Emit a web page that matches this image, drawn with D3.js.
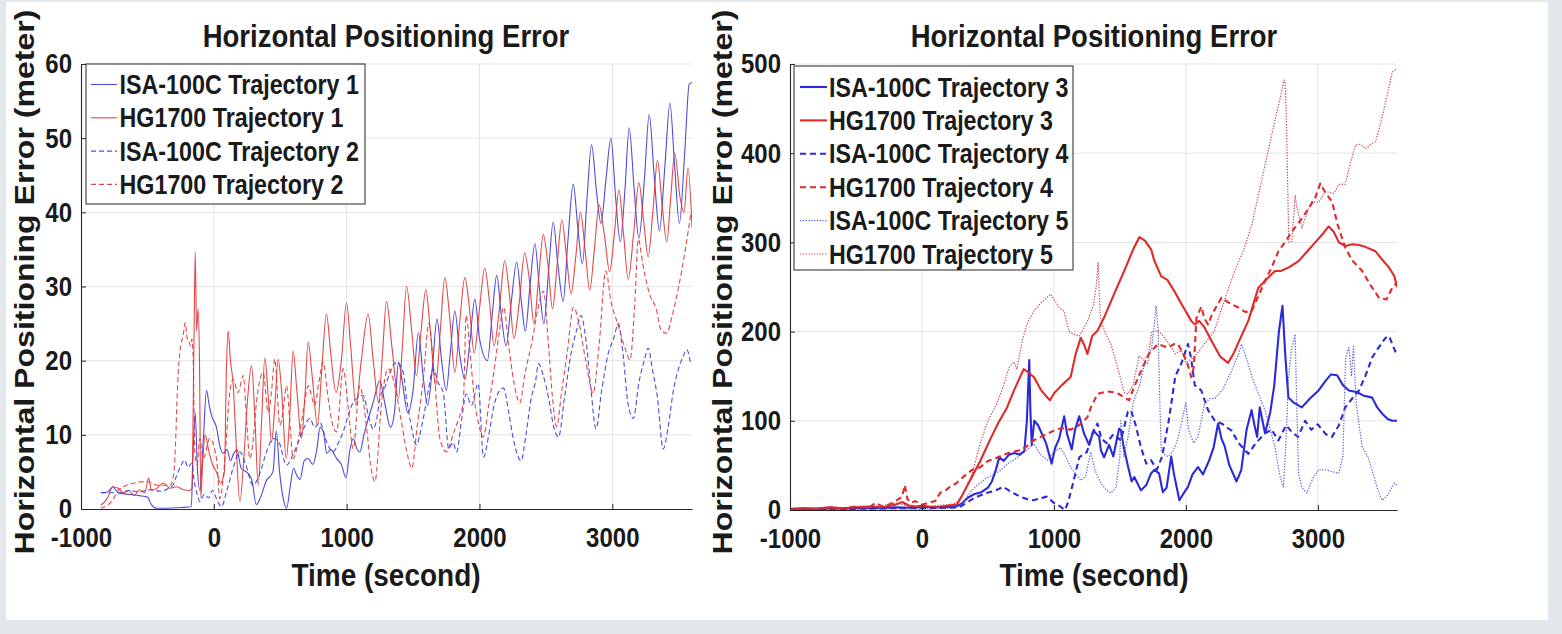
<!DOCTYPE html>
<html>
<head>
<meta charset="utf-8">
<script src="https://cdn.jsdelivr.net/npm/d3@7"></script>
<style>
  html, body { margin: 0; padding: 0; background: #e1e7ea; }
  svg { display: block; }
  text { font-family: "Liberation Sans", Arial, Helvetica, sans-serif; font-weight: bold; fill: #1a1a1a; }
</style>
</head>
<body>
<svg id="chart" width="1562" height="634"></svg>
<script>
// ---------------- DATA ----------------
const xTickValues = [-1000, 0, 1000, 2000, 3000];
const leftYTicks = [0, 10, 20, 30, 40, 50, 60];
const rightYTicks = [0, 100, 200, 300, 400, 500];
const titleText = "Horizontal Positioning Error";
const xLabelText = "Time (second)";
const yLabelText = "Horizontal Positioning Error (meter)";

// Left panel: [time (s), error (m)]
const isaTraj1 = [[-850,2.2],[-800,2.3],[-760,3.0],[-720,2.2],[-650,2.0],[-560,1.8],[-500,1.6],[-470,0.6],[-430,0.1],[-350,0.1],[-250,0.2],[-170,0.3],[-155,8],[-140,13],[-125,6],[-105,2.5],[-80,9],[-55,16],[-35,14],[-15,12.5],[20,11],[45,8.5],[70,7.5],[100,8],[125,6.5],[150,7.5],[175,8],[205,5.5],[245,5],[285,4],[320,0.6],[350,1.5],[395,3.8],[445,5],[470,10.5],[495,5],[525,1.2],[548,0.1],[575,3],[600,5.5],[625,4.5],[650,4],[680,6.5],[710,6.8],[745,6],[775,8],[800,11],[825,10.4],[850,7.5],[880,8],[925,6.8],[960,6],[995,4.2],[1025,8],[1050,9.5],[1080,8],[1100,7.7],[1130,10],[1160,12],[1200,14.4],[1250,17.3],[1290,14],[1330,11],[1360,13],[1390,19.8],[1420,17],[1460,13],[1500,16],[1540,23.8],[1575,18],[1610,14],[1645,19],[1680,25.6],[1715,20],[1750,16],[1780,21],[1815,26.7],[1850,21],[1890,17.5],[1925,22],[1965,28.3],[2000,23],[2060,20],[2095,26],[2130,31.5],[2165,26],[2200,22],[2240,28],[2280,33.3],[2315,28],[2345,24],[2380,30],[2417,35.8],[2450,30],[2485,25],[2520,32],[2555,38.7],[2590,33],[2630,28],[2665,36],[2706,43.8],[2740,38],[2775,33],[2810,42],[2844,49.1],[2880,43],[2915,38.5],[2950,44],[2990,50],[3025,42],[3060,36],[3095,43],[3127,51.4],[3165,43],[3200,36.5],[3240,44],[3278,53.2],[3315,45],[3355,37.5],[3395,46],[3434,54.7],[3470,46],[3505,38.5],[3545,48],[3579,57.3],[3600,57.5]];

const hgTraj1 = [[-850,0.5],[-800,1.5],[-760,3],[-720,2.8],[-680,2.2],[-640,2.5],[-600,1.8],[-560,2.6],[-520,2.2],[-490,4.2],[-470,2.5],[-430,2.8],[-380,3.5],[-330,2.8],[-280,3],[-230,2.6],[-180,2.5],[-165,2.8],[-150,22],[-140,34.6],[-130,24],[-118,27],[-108,20],[-98,1.5],[-85,6],[-65,10],[-40,8],[-10,6],[20,5],[50,3.5],[80,5],[95,19],[108,24],[125,20],[145,17],[165,10],[196,1],[230,8],[255,15],[284,19.3],[310,12],[334,3.2],[360,12],[384,20.4],[410,15],[434,9],[460,14],[484,20.2],[510,16],[545,6.8],[570,12],[597,21.3],[625,16],[660,9.5],[685,15],[710,22.5],[740,18],[780,11.3],[810,18],[848,26.3],[880,21],[920,15.7],[960,20],[999,27.8],[1030,22],[1070,14],[1110,20],[1162,26.3],[1200,20],[1240,14.4],[1270,21],[1300,28],[1340,22],[1390,14.9],[1420,22],[1451,30],[1490,24],[1525,18],[1560,24],[1596,29.6],[1630,24],[1670,16.6],[1705,24],[1739,31.2],[1775,26],[1815,18.4],[1850,25],[1890,31.2],[1925,27],[1960,21],[2000,27],[2040,32.5],[2075,28],[2110,22],[2150,27],[2190,33.5],[2225,29],[2260,23],[2300,28],[2340,34.5],[2375,31],[2410,25],[2445,31],[2480,37],[2515,33],[2550,27],[2585,33],[2620,39],[2655,34],[2690,29],[2725,34],[2760,40],[2795,35],[2830,29.5],[2865,35],[2900,41],[2940,37],[2980,32],[3015,37],[3050,43],[3085,37],[3120,31],[3160,37],[3200,44],[3235,39],[3270,34],[3305,40],[3340,47],[3375,41],[3410,36],[3440,42],[3470,48],[3510,42],[3540,40],[3570,46],[3600,38]];

const isaTraj2 = [[-850,2.2],[-780,2.2],[-700,2.2],[-640,2.5],[-560,2.3],[-480,2.6],[-400,2.4],[-340,2.8],[-307,3.2],[-280,4.5],[-256,5.5],[-219,6.6],[-195,5.6],[-181,5.9],[-165,6.2],[-150,4],[-125,2],[-106,1],[-70,2],[-40,1.5],[-10,2.5],[20,1.4],[58,0.3],[95,2.3],[145,5.5],[196,7.7],[240,6],[296,3.2],[340,4.5],[397,7.7],[447,9.5],[490,9],[547,5.9],[600,7.5],[647,9.5],[680,11],[723,12.2],[760,11],[798,11.7],[850,9],[899,7.7],[940,9],[974,10.4],[1010,12.5],[1049,14.4],[1085,15],[1125,15.3],[1165,12.5],[1200,10.8],[1225,12],[1250,14.9],[1290,16.5],[1326,18.4],[1376,19.8],[1426,18.4],[1450,15],[1476,12.2],[1527,8.6],[1550,10],[1577,12.2],[1615,16],[1652,18.9],[1690,17],[1727,15.7],[1769,8.1],[1800,9],[1828,7.7],[1865,12],[1900,15.5],[1940,14],[1990,16.9],[2030,7.0],[2070,10],[2110,14],[2153,16],[2182,16.3],[2220,13],[2260,9],[2313,6.5],[2350,10],[2390,15],[2420,17],[2445,19.6],[2480,18],[2520,15],[2560,11],[2595,9.7],[2640,15],[2690,21],[2730,24],[2764,26.1],[2800,23],[2840,16],[2877,10.8],[2920,16],[2970,21],[3010,23],[3046,25],[3080,21],[3120,14],[3158,12.2],[3200,17],[3240,20],[3271,21.7],[3300,19],[3340,15],[3383,8.1],[3420,11],[3460,16],[3500,19],[3534,20.6],[3560,21.5],[3590,19.6]];

const hgTraj2 = [[-850,0.1],[-800,0.5],[-755,1.4],[-720,2.5],[-680,3],[-600,3.5],[-504,3.7],[-450,3.3],[-404,3.2],[-329,3.2],[-300,5],[-291,7.7],[-273,16.6],[-253,21.6],[-230,23.5],[-216,25.1],[-200,23],[-191,22.7],[-175,22],[-166,22.9],[-155,20],[-143,7.7],[-125,6],[-106,9.5],[-80,6.8],[-30,9.5],[20,6.8],[45,1.4],[80,6],[120,15.7],[145,17.5],[183,15.7],[221,18],[250,11],[271,6.8],[300,10],[321,14.4],[372,18.4],[409,13],[435,16],[459,20.2],[497,11.3],[520,13],[547,16.6],[575,11],[597,6.8],[647,10.4],[680,14],[710,16.6],[760,14],[790,17],[823,19.8],[860,15],[900,11],[924,10.4],[974,18.9],[1010,14],[1049,8.1],[1099,16.6],[1150,11],[1180,6],[1213,3.7],[1263,14.4],[1313,18.9],[1363,16.6],[1410,12],[1453,7.7],[1491,5.5],[1530,11],[1577,17.5],[1619,25],[1660,18],[1702,9.5],[1752,7.7],[1800,10],[1840,12],[1878,14.4],[1900,26.1],[1925,22],[1960,15],[2000,11],[2028,9.7],[2070,14],[2120,20],[2150,24],[2182,27.2],[2220,22],[2260,17],[2304,14.3],[2340,18],[2400,23],[2440,27],[2482,29.4],[2520,22],[2550,15],[2580,11.1],[2620,16],[2660,21],[2708,27.2],[2750,25],[2800,20],[2856,15.6],[2900,22],[2952,32.1],[2990,28],[3040,25],[3090,22],[3133,20.1],[3170,28],[3196,36.4],[3230,33],[3280,29],[3330,27],[3370,24],[3409,23.7],[3450,26],[3500,30],[3550,35],[3590,39.7]];

// Right panel: [time (s), error (m)]
const isaTraj3 = [[-1000,1],[-900,1.5],[-800,1],[-700,2],[-600,1.5],[-500,2],[-400,2.5],[-300,2],[-200,3],[-100,2.5],[0,3],[100,3],[200,3.5],[260,4],[300,7],[350,14],[400,18],[450,20],[500,25],[530,32],[560,45],[586,59],[620,55],[660,62],[700,64],[740,62],[776,66],[795,100],[813,168],[822,110],[832,73],[851,100],[880,95],[910,85],[940,75],[983,52],[1010,70],[1040,80],[1078,105],[1100,85],[1135,68],[1160,90],[1192,105],[1230,85],[1267,73],[1300,89],[1343,82],[1356,67],[1380,59],[1418,73],[1450,60],[1494,91],[1508,89],[1530,70],[1560,50],[1589,32],[1609,37],[1660,22],[1700,28],[1736,41],[1760,45],[1797,41],[1825,20],[1854,25],[1889,60],[1910,40],[1951,11],[1980,18],[2016,26],[2050,40],[2092,48],[2130,40],[2175,55],[2210,70],[2244,97],[2270,80],[2295,71],[2330,50],[2384,32],[2420,45],[2460,90],[2498,112],[2520,95],[2540,82],[2560,115],[2600,86],[2640,110],[2670,140],[2705,200],[2732,229],[2755,170],[2777,126],[2820,120],[2879,115],[2940,125],[3006,134],[3060,145],[3100,152],[3146,151],[3190,140],[3235,134],[3300,132],[3350,128],[3412,126],[3450,115],[3488,108],[3530,102],[3564,100],[3600,100]];

const hgTraj3 = [[-1000,1],[-900,2],[-800,1.5],[-700,3],[-600,2],[-500,3],[-400,4],[-300,3],[-200,6],[-150,9],[-100,5],[-50,4],[0,5],[50,4],[100,3],[150,4],[200,5],[264,6],[300,15],[360,32],[442,55],[520,80],[580,98],[645,115],[700,135],[771,158],[800,155],[848,149],[900,135],[950,126],[970,123],[1001,131],[1060,140],[1127,149],[1165,175],[1203,193],[1230,185],[1254,175],[1290,195],[1330,201],[1381,216],[1450,240],[1533,268],[1600,292],[1648,306],[1690,302],[1737,292],[1760,280],[1813,262],[1860,258],[1914,245],[1970,230],[2041,212],[2070,208],[2100,212],[2140,205],[2200,188],[2260,172],[2320,165],[2360,175],[2420,195],[2473,212],[2520,235],[2549,249],[2600,257],[2675,268],[2720,268],[2780,272],[2854,279],[2920,290],[2980,300],[3040,310],[3082,318],[3120,312],[3160,300],[3208,296],[3260,298],[3311,297],[3360,295],[3437,290],[3480,282],[3539,272],[3580,262],[3600,250]];

const isaTraj4 = [[-1000,0.5],[-800,1],[-600,1],[-400,1.5],[-200,2],[0,2],[200,2.5],[280,3],[340,8],[400,14],[490,19],[560,22],[617,26],[680,20],[743,15],[800,12],[844,11],[900,13],[945,15],[1000,8],[1046,4],[1085,0],[1110,10],[1150,33],[1192,59],[1250,65],[1290,85],[1330,97],[1360,80],[1400,75],[1450,85],[1508,78],[1560,110],[1584,112],[1620,95],[1660,70],[1700,52],[1736,56],[1780,45],[1820,60],[1870,100],[1920,150],[1965,164],[2016,186],[2040,170],[2067,140],[2117,134],[2168,112],[2220,100],[2270,97],[2346,89],[2400,75],[2473,63],[2530,75],[2600,86],[2650,90],[2701,78],[2760,95],[2800,88],[2850,82],[2904,100],[2950,90],[3000,96],[3060,85],[3107,82],[3160,95],[3208,115],[3260,125],[3311,134],[3360,150],[3412,171],[3460,182],[3513,193],[3540,195],[3564,186],[3600,173]];

const hgTraj4 = [[-1000,1],[-900,2],[-800,1],[-700,3],[-600,2],[-500,4],[-400,3],[-350,8],[-300,4],[-250,6],[-200,10],[-150,15],[-130,28],[-110,12],[-80,8],[-50,10],[0,6],[50,8],[100,10],[137,19],[180,22],[213,26],[260,30],[320,38],[380,45],[442,48],[500,55],[560,58],[620,62],[680,65],[746,67],[800,72],[848,78],[900,82],[1001,89],[1060,92],[1127,90],[1190,95],[1254,104],[1280,115],[1330,130],[1400,133],[1450,132],[1494,130],[1533,126],[1570,123],[1600,135],[1660,156],[1720,175],[1787,186],[1864,182],[1910,186],[1940,186],[1980,175],[2010,165],[2041,149],[2060,160],[2080,215],[2117,228],[2140,215],[2168,208],[2200,220],[2270,238],[2330,232],[2397,227],[2450,222],[2498,223],[2550,240],[2600,257],[2650,272],[2701,290],[2750,300],[2803,312],[2870,325],[2930,338],[2980,350],[3018,366],[3060,355],[3107,346],[3150,320],[3208,294],[3260,280],[3336,268],[3400,252],[3463,238],[3520,236],[3564,249],[3600,255]];

const isaTraj5 = [[-1000,0.5],[-800,1],[-600,0.5],[-400,1],[-200,1.5],[0,1],[200,2],[260,3],[300,6],[366,20],[420,28],[480,35],[550,40],[600,45],[650,52],[696,56],[750,62],[800,68],[848,74],[900,62],[950,56],[1000,65],[1050,70],[1090,60],[1127,48],[1170,40],[1203,33],[1240,38],[1280,65],[1310,45],[1356,30],[1400,22],[1432,19],[1470,25],[1500,60],[1508,100],[1530,60],[1560,80],[1600,120],[1650,140],[1698,171],[1740,180],[1775,229],[1790,200],[1800,135],[1813,67],[1840,62],[1864,60],[1900,65],[1940,80],[1970,100],[2000,120],[2020,90],[2060,75],[2092,82],[2142,119],[2180,125],[2220,125],[2280,135],[2346,156],[2400,175],[2422,186],[2460,170],[2500,150],[2550,130],[2600,112],[2640,90],[2675,71],[2710,40],[2739,26],[2760,80],[2777,146],[2800,180],[2828,197],[2840,120],[2854,41],[2880,25],[2917,19],[2960,35],[3006,45],[3060,45],[3110,43],[3158,41],[3190,60],[3210,170],[3235,182],[3255,150],[3270,185],[3290,120],[3336,71],[3380,60],[3420,40],[3460,20],[3488,11],[3520,15],[3539,19],[3560,25],[3580,30],[3600,28]];

const hgTraj5 = [[-1000,1],[-800,2],[-600,1.5],[-400,3],[-300,5],[-200,8],[-150,6],[-100,4],[0,3],[100,5],[200,6],[260,8],[300,15],[380,40],[442,75],[500,100],[566,119],[620,140],[660,160],[696,166],[720,158],[760,190],[800,210],[848,223],[900,232],[975,242],[1040,227],[1077,223],[1116,200],[1153,197],[1192,195],[1250,210],[1300,230],[1320,250],[1335,277],[1350,220],[1362,209],[1400,195],[1432,186],[1483,160],[1532,132],[1559,130],[1600,140],[1646,173],[1711,164],[1740,200],[1787,201],[1830,195],[1873,186],[1920,175],[1965,179],[2000,165],[2050,170],[2100,178],[2150,188],[2213,200],[2270,225],[2327,250],[2380,272],[2440,292],[2500,320],[2560,360],[2620,400],[2680,440],[2720,465],[2743,482],[2752,480],[2762,436],[2780,300],[2803,301],[2828,353],[2840,340],[2880,316],[2920,335],[2955,346],[3007,345],[3056,357],[3121,355],[3160,365],[3208,365],[3240,385],[3285,409],[3320,410],[3361,405],[3400,410],[3437,413],[3470,430],[3513,457],[3537,473],[3564,491],[3600,495]];

const leftNames = ["ISA-100C Trajectory 1", "HG1700 Trajectory 1", "ISA-100C Trajectory 2", "HG1700 Trajectory 2"];
const rightNames = ["ISA-100C Trajectory 3", "HG1700 Trajectory 3", "ISA-100C Trajectory 4", "HG1700 Trajectory 4", "ISA-100C Trajectory 5", "HG1700 Trajectory 5"];

// ---------------- STYLE ----------------
const BLUE = "#2a2ad8";
const RED = "#e02a2a";
const SY = 1.15; // vertical stretch of the original image text

const leftSeries = [
  { name: leftNames[0], data: isaTraj1, color: "#3838dc", width: 1.1, dash: null, op: 0.9 },
  { name: leftNames[1], data: hgTraj1,  color: "#e03434", width: 1.1, dash: null, op: 0.9 },
  { name: leftNames[2], data: isaTraj2, color: "#3838dc", width: 1.1, dash: "5,3", op: 0.9 },
  { name: leftNames[3], data: hgTraj2,  color: "#e03434", width: 1.1, dash: "5,3", op: 0.9 }
];
const rightSeries = [
  { name: rightNames[0], data: isaTraj3, color: BLUE, width: 2.1, dash: null, op: 1 },
  { name: rightNames[1], data: hgTraj3,  color: RED,  width: 2.1, dash: null, op: 1 },
  { name: rightNames[2], data: isaTraj4, color: BLUE, width: 2.1, dash: "6,4", op: 1 },
  { name: rightNames[3], data: hgTraj4,  color: RED,  width: 2.1, dash: "6,4", op: 1 },
  { name: rightNames[4], data: isaTraj5, color: "#4a4ad8", width: 1.2, dash: "1.3,1.5", op: 0.9 },
  { name: rightNames[5], data: hgTraj5,  color: "#c83040", width: 1.2, dash: "1.3,1.5", op: 0.9 }
];

const svg = d3.select("#chart");
svg.append("rect").attr("x", 6).attr("y", 2).attr("width", 1542).attr("height", 618).attr("fill", "#ffffff");

function stretchedText(parent, x, y, str, size, anchor) {
  return parent.append("text")
    .attr("transform", `translate(${x},${y}) scale(1,${SY})`)
    .attr("text-anchor", anchor || "start")
    .style("font-size", size + "px")
    .text(str);
}

function drawPanel(cfg) {
  const x = d3.scaleLinear().domain([-1000, 3600]).range([cfg.x0, cfg.x1]);
  const y = d3.scaleLinear().domain([0, cfg.ymax]).range([cfg.yb, cfg.yt]);
  const g = svg.append("g");

  // grid
  g.append("g").selectAll("line").data(xTickValues.filter(t => t > -1000)).join("line")
    .attr("x1", d => x(d)).attr("x2", d => x(d)).attr("y1", cfg.yt).attr("y2", cfg.yb)
    .attr("stroke", "#e4e4e4").attr("stroke-width", 1);
  g.append("g").selectAll("line").data(cfg.yTicks.filter(v => v > 0)).join("line")
    .attr("x1", cfg.x0).attr("x2", cfg.x1).attr("y1", d => y(d)).attr("y2", d => y(d))
    .attr("stroke", "#e4e4e4").attr("stroke-width", 1);

  // clip
  const cid = "clip" + cfg.id;
  svg.append("defs").append("clipPath").attr("id", cid).append("rect")
    .attr("x", cfg.x0).attr("y", cfg.yt - 2).attr("width", cfg.x1 - cfg.x0).attr("height", cfg.yb - cfg.yt + 2);

  const line = d3.line().x(d => x(d[0])).y(d => y(d[1])).curve(cfg.curve);
  const lg = g.append("g").attr("clip-path", `url(#${cid})`);
  cfg.series.forEach(s => {
    lg.append("path").datum(s.data)
      .attr("d", line)
      .attr("fill", "none")
      .attr("stroke", s.color)
      .attr("stroke-width", s.width)
      .attr("stroke-opacity", s.op)
      .attr("stroke-linejoin", "round")
      .attr("stroke-dasharray", s.dash);
  });

  // axes
  const fmt = d => String(d);
  const xa = g.append("g").attr("transform", `translate(0,${cfg.yb})`)
    .call(d3.axisBottom(x).tickValues(xTickValues).tickSizeInner(-5).tickSizeOuter(0).tickPadding(18).tickFormat(fmt));
  const ya = g.append("g").attr("transform", `translate(${cfg.x0},0)`)
    .call(d3.axisLeft(y).tickValues(cfg.yTicks).tickSizeInner(-5).tickSizeOuter(0).tickPadding(9).tickFormat(fmt));
  [xa, ya].forEach(a => {
    a.select(".domain").attr("stroke", "#262626").attr("stroke-width", 1.1);
    a.selectAll(".tick line").attr("stroke", "#262626");
    a.selectAll(".tick text").each(function () {
      const t = d3.select(this);
      const tx = +t.attr("x") || 0, ty = +t.attr("y") || 0;
      t.attr("x", 0).attr("y", 0)
        .attr("transform", `translate(${tx},${ty}) scale(1,${SY})`)
        .attr("fill", "#1a1a1a")
        .style("font-size", "24px")
        .style("font-family", '"Liberation Sans", Arial, sans-serif')
        .style("font-weight", "bold");
    });
  });

  // title
  stretchedText(g, cfg.titleX, 47, titleText, 27.5, "middle");
  // x label
  stretchedText(g, cfg.titleX, 586, xLabelText, 28, "middle");
  // y label (rotated, stretched along its length)
  g.append("text")
    .attr("transform", `translate(${cfg.yLabelX},${cfg.yLabelY}) rotate(-90)`)
    .attr("text-anchor", "middle")
    .attr("textLength", 545)
    .attr("lengthAdjust", "spacingAndGlyphs")
    .style("font-size", "28px")
    .text(yLabelText);

  // legend
  const L = cfg.legend;
  const leg = g.append("g");
  leg.append("rect").attr("x", L.x).attr("y", L.y).attr("width", L.w).attr("height", L.h)
    .attr("fill", "#ffffff").attr("stroke", "#3a3a3a").attr("stroke-width", 1.1);
  cfg.series.forEach((s, i) => {
    const cy = L.row0 + i * L.step;
    leg.append("line").attr("x1", L.lx0).attr("x2", L.lx1).attr("y1", cy).attr("y2", cy)
      .attr("stroke", s.color).attr("stroke-width", s.width).attr("stroke-opacity", s.op)
      .attr("stroke-dasharray", s.dash);
    stretchedText(leg, L.tx, cy + 9.5, s.name, 23.3, "start");
  });
}

drawPanel({
  id: "L", x0: 81, x1: 692, yt: 64, yb: 509, ymax: 60, yTicks: leftYTicks,
  series: leftSeries, titleX: 386, yLabelX: 34, yLabelY: 282, curve: d3.curveMonotoneX,
  legend: { x: 86, y: 64, w: 279, h: 140, row0: 84.5, step: 33.3, lx0: 91, lx1: 117, tx: 119.5 }
});
drawPanel({
  id: "R", x0: 790, x1: 1397, yt: 64, yb: 510, ymax: 500, yTicks: rightYTicks,
  series: rightSeries, titleX: 1094, yLabelX: 732, yLabelY: 282, curve: d3.curveLinear,
  legend: { x: 794, y: 66, w: 279, h: 204, row0: 87, step: 33.4, lx0: 800, lx1: 827, tx: 829 }
});
</script>
</body>
</html>
